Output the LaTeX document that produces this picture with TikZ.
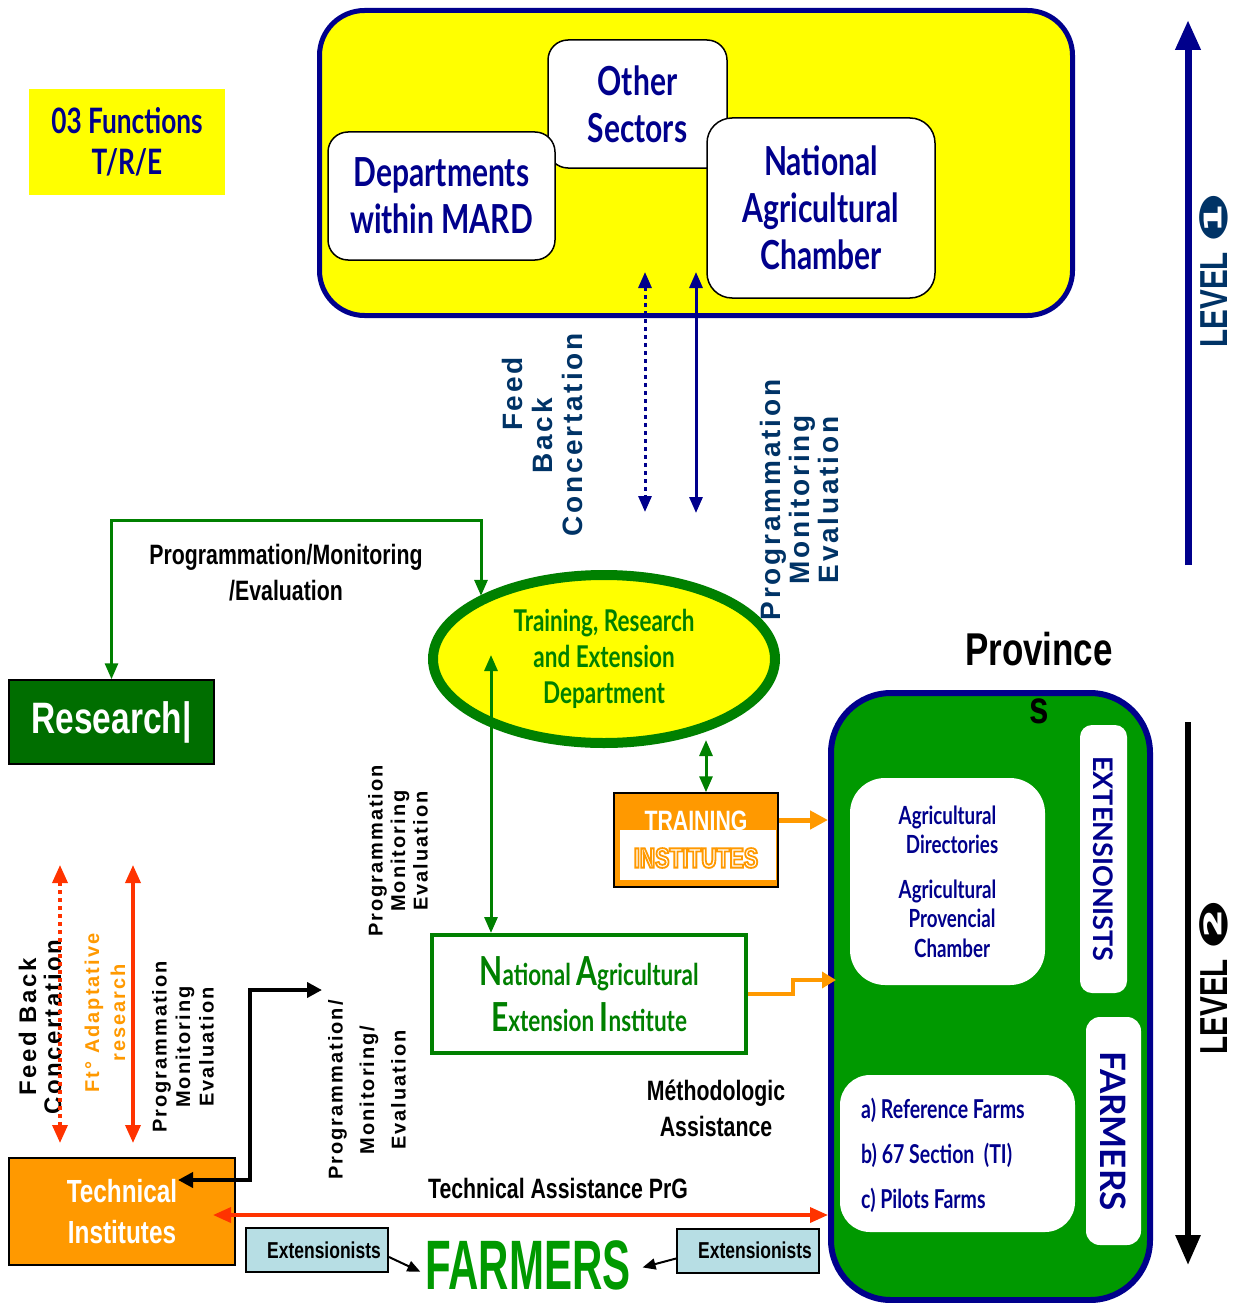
\documentclass[tikz,border=0pt]{standalone}
\usepackage{fontspec}
\usetikzlibrary{shapes.geometric,arrows.meta}
\newfontfamily\twc[FakeStretch=0.75]{Lato}
\newfontfamily\twn{Lato}
\newfontfamily\arn[FakeStretch=0.76]{Liberation Sans}
\newfontfamily\spc[LetterSpace=10]{Liberation Sans}
\newfontfamily\djv{DejaVu Sans}
\newcommand\fsz[2]{\fontsize{#1}{#2}\selectfont}
\definecolor{navyb}{RGB}{0,0,140}
\definecolor{dblue}{RGB}{0,51,102}
\definecolor{ylw}{RGB}{255,255,0}
\definecolor{gbox}{RGB}{0,153,0}
\definecolor{gdk}{RGB}{0,128,0}
\definecolor{gres}{RGB}{0,110,0}
\definecolor{orng}{RGB}{255,153,0}
\definecolor{redo}{RGB}{255,51,0}
\definecolor{lblue}{RGB}{183,222,228}
\newcommand\outlinetxt[1]{%
 \special{pdf:literal direct 2 Tr 1.8 w 1 0.6 0 RG}#1\special{pdf:literal direct 0 Tr 1 w}}
\begin{document}
\begin{tikzpicture}[x=1pt,y=-1pt,
 wbox/.style={draw=black, line width=1.5pt, fill=white, inner sep=0pt},
 lbl/.style={font=\arn\bfseries\fsz{28}{36}, align=center, inner sep=0pt, text=black},
 rot/.style={rotate=90, align=center, inner sep=0pt},
 gline/.style={draw=gdk, line width=3pt, >={Triangle[width=13pt,length=16pt]}},
 nline/.style={draw=navyb, line width=3pt, >={Triangle[width=13pt,length=16pt]}},
 rline/.style={draw=redo, line width=3.5pt, >={Triangle[width=15pt,length=18pt]}},
 oline/.style={draw=orng, line width=5pt, >={Triangle[width=18pt,length=18pt]}},
 bline/.style={draw=black, line width=4pt, >={Triangle[width=15pt,length=15pt]}},
 tline/.style={draw=black, line width=2pt, >={Triangle[width=11pt,length=13pt]}},
 bluetxt/.style={text=navyb, font=\twc\bfseries\fsz{40}{47}, align=center}
]
\fill[white] (0,0) rectangle (1243,1303);
\useasboundingbox (0,0) rectangle (1243,1303);

% ---------- top level 0 ----------
\node[fill=ylw, minimum width=196pt, minimum height=105pt, inner sep=0pt, text=navyb,
      font=\twc\bfseries\fsz{35}{41}, align=center] (fun) at (127,142) {03 Functions\\T/R/E};

\node[draw=navyb, line width=5pt, fill=ylw, rounded corners=45pt, minimum width=753pt,
      minimum height=305pt, inner sep=0pt] (lvl0) at (696,163) {};
\node[wbox, rounded corners=20pt, minimum width=179pt, minimum height=128pt, bluetxt] (oth) at (637.5,104) {Other\\Sectors};
\node[wbox, rounded corners=20pt, minimum width=227pt, minimum height=128pt, bluetxt] (dep) at (441.5,196) {Departments\\within MARD};
\node[wbox, rounded corners=25pt, minimum width=228pt, minimum height=180pt, bluetxt] (nac) at (821,208) {National\\Agricultural\\Chamber};

\coordinate (t1a) at (645,272); \coordinate (t1b) at (645,512);
\coordinate (t2a) at (696,272); \coordinate (t2b) at (696,513);
\draw[nline, dash pattern=on 4pt off 4pt, <->] (t1a) -- (t1b);
\draw[nline, <->] (t2a) -- (t2b);

\node[rot, text=dblue, font=\spc\bfseries\fsz{28}{30}] (fb1) at (512,394) {Feed};
\node[rot, text=dblue, font=\spc\bfseries\fsz{28}{30}] (fb2) at (542,436) {Back};
\node[rot, text=dblue, font=\spc\bfseries\fsz{28}{30}] (fb3) at (572,435) {Concertation};
\node[rot, text=dblue, font=\spc\bfseries\fsz{28}{29}] (pm1) at (799,500) {Programmation\\Monitoring\\Evaluation};

% level arrows
\coordinate (l0a) at (1188,565); \coordinate (l0b) at (1188,20);
\draw[navyb, line width=7pt, -{Triangle[width=24pt,length=30pt]}] (l0a) -- (l0b);
\node[rot, text=dblue, font=\arn\bfseries\fsz{39}{40}] (lev0) at (1214,270) {LEVEL\hspace{10pt}{\djv\scalebox{1.5}[1]{❶}}};
\coordinate (l2a) at (1188,722); \coordinate (l2b) at (1188,1265);
\draw[black, line width=6pt, -{Triangle[width=24pt,length=30pt]}] (l2a) -- (l2b);
\node[rot, text=black, font=\arn\bfseries\fsz{39}{40}] (lev2) at (1214,977) {LEVEL\hspace{10pt}{\djv\scalebox{1.5}[1]{❷}}};

% ---------- ellipse and research ----------
\node[ellipse, draw=gdk, line width=10pt, fill=ylw, minimum width=342pt, minimum height=168pt,
      inner sep=0pt, text=gdk, font=\twc\bfseries\fsz{30}{36}, align=center] (trd) at (604,659)
      {Training, Research\\and Extension\\Department};

\node[draw=black, line width=1.5pt, fill=gres, minimum width=205pt, minimum height=84pt, inner sep=0pt,
      text=white, font=\arn\bfseries\fsz{44}{50}] (res) at (111.5,722) {Research|};

\coordinate (g1) at (481,520);
\draw[gline, <->] (res.north) |- (g1) -- (g1 |- trd.153);
\node[lbl] (pmlab) at (286,573) {Programmation/Monitoring\\/Evaluation};

% ---------- NAEI, training institutes ----------
\node[draw=gdk, line width=4pt, fill=white, minimum width=314pt, minimum height=118pt, inner sep=0pt,
      text=gdk, font=\twc\bfseries\fsz{30}{46}, align=center] (naei) at (589,994)
      {{\fsz{40}{46}N}ational {\fsz{40}{46}A}gricultural\\{\fsz{40}{46}E}xtension {\fsz{40}{46}I}nstitute};

\coordinate (g2) at (491,655);
\draw[gline, <->] (g2) -- (g2 |- naei.north);

\node[draw=black, line width=1.5pt, fill=orng, minimum width=164pt, minimum height=94pt, inner sep=0pt] (tr) at (696,840) {};
\fill[white] (620,830) rectangle (776,880);
\node[text=white, font=\arn\bfseries\fsz{28}{30}, inner sep=0pt] (trt1) at (696,821) {TRAINING};
\node[text=white, font=\arn\bfseries\fsz{28}{30}, inner sep=0pt] (trt2) at (696,858) {\outlinetxt{INSTITUTES}};

\coordinate (g3) at (706,740);
\draw[gline, <->] (g3) -- (g3 |- tr.north);

\node[rot, font=\spc\bfseries\fsz{20}{22.5}] (pm2) at (398,851) {Programmation\\Monitoring\\Evaluation};
\node[lbl] (meth) at (716,1108) {Méthodologic\\Assistance};

% ---------- province box ----------
\node[draw=navyb, line width=6pt, fill=gbox, rounded corners=60pt, minimum width=319pt,
      minimum height=607pt, inner sep=0pt] (prov) at (990.5,996.5) {};
\node[font=\arn\bfseries\fsz{46}{58}, align=center, inner sep=0pt] (provl) at (1039,678) {Province\\s};
\node[draw=none, fill=white, rounded corners=35pt, minimum width=195pt, minimum height=207pt, inner sep=0pt,
      text=navyb, font=\twc\bfseries\fsz{25}{29.5}, align=center] (dirs) at (947.5,881.5)
      {Agricultural\\\ \ Directories\\[15pt]Agricultural\\\ \ Provencial\\\ \ Chamber};
\node[draw=none, fill=white, rounded corners=12pt, rotate=-90, minimum width=268pt, minimum height=47pt, inner sep=0pt,
      text=navyb, font=\twn\bfseries\fsz{27}{30}] (extb) at (1103.5,859) {EXTENSIONISTS};
\node[draw=none, fill=white, rounded corners=14pt, rotate=-90, minimum width=228pt, minimum height=55pt, inner sep=0pt,
      text=navyb, font=\twn\bfseries\fsz{35}{38}] (farmb) at (1113.5,1131) {FARMERS};
\node[draw=none, fill=white, rounded corners=30pt, minimum width=235pt, minimum height=157pt, inner sep=0pt] (abc) at (957.5,1153.5) {};
\node[anchor=west, align=left, inner sep=0pt, text=navyb, font=\twc\bfseries\fsz{26}{45}] (abct) at (861,1155)
      {a)\ Reference Farms\\b)\ 67 Section\ \ (TI)\\c)\ Pilots Farms};

\coordinate (o1) at ([yshift=20pt]tr.east);
\draw[oline, ->] (o1) -- (o1 -| prov.west);
\coordinate (o2) at (793,980);
\draw[draw=orng, line width=4pt, -{Triangle[width=16pt,length=14pt]}, shorten >=-8pt] (naei.east) -| (o2) -- (o2 -| prov.west);

% ---------- left bottom ----------
\node[rot, font=\spc\bfseries\fsz{24}{25}] (lfb) at (40,1027) {Feed Back\\Concertation};
\node[rot, text=orng, font=\spc\bfseries\fsz{20}{26}] (lft) at (105,1013) {Ft° Adaptative\\research};
\node[rot, font=\spc\bfseries\fsz{20}{23.5}] (pm3) at (183,1047) {Programmation\\Monitoring\\Evaluation};
\node[rot, font=\spc\bfseries\fsz{20}{31.5}] (pm4) at (367,1090) {Programmation/\\Monitoring/\\Evaluation};

\coordinate (ra) at (60,865); \coordinate (rb) at (60,1143);
\coordinate (rc) at (133,865); \coordinate (rd) at (133,1143);
\draw[rline, dash pattern=on 4pt off 4pt, <->] (ra) -- (rb);
\draw[rline, <->] (rc) -- (rd);

\node[draw=black, line width=1.5pt, fill=orng, minimum width=226pt, minimum height=107pt, inner sep=0pt,
      text=white, font=\arn\bfseries\fsz{32}{41}, align=center] (tech) at (122,1211.5) {Technical\\Institutes};

\coordinate (b1) at (178,1180); \coordinate (bk) at (250,990); \coordinate (b3) at (322,990);
\draw[bline, <->] (b1) -| (bk) -- (b3);

\coordinate (r1) at (213,1215);
\draw[rline, <->] (r1) -- (r1 -| prov.west);
\node[lbl] (tap) at (558,1188) {Technical Assistance PrG};

\node[draw=black, line width=2pt, fill=lblue, minimum width=142pt, minimum height=44pt, inner sep=0pt,
      font=\arn\bfseries\fsz{23}{26}] (ex1) at (317,1250) {\hspace*{14pt}Extensionists};
\node[draw=black, line width=2pt, fill=lblue, minimum width=142pt, minimum height=44pt, inner sep=0pt,
      font=\arn\bfseries\fsz{23}{26}] (ex2) at (748,1250.5) {\hspace*{14pt}Extensionists};
\node[text=gbox, inner sep=2pt, font=\arn\bfseries\fsz{70}{70}] (farm) at (528,1265) {\scalebox{0.79}[1]{FARMERS}};
\draw[tline, ->, shorten >=3pt] ([yshift=-7pt]ex1.east) -- ([yshift=-8pt]farm.west);
\draw[tline, ->, shorten >=10pt] ([yshift=-8pt]ex2.west) -- ([yshift=-5pt]farm.east);
\end{tikzpicture}
\end{document}
